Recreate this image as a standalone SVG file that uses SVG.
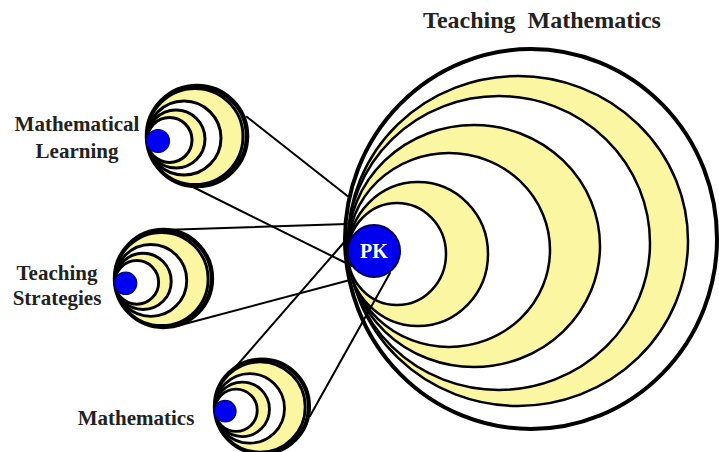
<svg xmlns="http://www.w3.org/2000/svg" xmlns:xlink="http://www.w3.org/1999/xlink" width="719" height="452" viewBox="0 0 719 452">
<style>
.ring{stroke:#000;stroke-width:2.5}
.w{fill:#fff}
.y{fill:#FBF6A2}
.outer{stroke-width:4}
.dot{fill:#0000F2;stroke:#00007A;stroke-width:1.2}
.lbl{font-family:"Liberation Serif","Times New Roman",serif;font-weight:bold;fill:#222;font-size:21px;text-anchor:middle}
.conn line{stroke:#000;stroke-width:2;stroke-linecap:round}
</style>
<defs>
<g id="small">
<circle class="ring w" cx="51" cy="0" r="50" style="stroke-width:4.5"/>
<circle class="ring y" cx="49" cy="0.5" r="48" style="stroke-width:3"/>
<circle class="ring w" cx="38" cy="2" r="37" style="stroke-width:3"/>
<circle class="ring y" cx="30" cy="3" r="29" style="stroke-width:3"/>
<circle class="ring w" cx="23.5" cy="4" r="22.5" style="stroke-width:3"/>
<circle class="dot" cx="12" cy="5" r="11.5"/>
</g>
</defs>
<rect width="719" height="452" fill="#fff"/>

<g id="teaching-mathematics">
<ellipse class="ring outer w" cx="531" cy="239" rx="186" ry="190"/>
<ellipse class="ring y" cx="518" cy="241" rx="170" ry="165"/>
<ellipse class="ring w" cx="499" cy="243" rx="151" ry="147"/>
<ellipse class="ring y" cx="474" cy="246" rx="126" ry="121"/>
<ellipse class="ring w" cx="449" cy="250" rx="101" ry="97"/>
<ellipse class="ring y" cx="418" cy="254" rx="70" ry="72"/>
<ellipse class="ring w" cx="397" cy="254" rx="49" ry="51"/>
<text class="lbl" x="542" y="28" style="font-size:24px" xml:space="preserve">Teaching  Mathematics</text>
</g>

<g id="connectors" class="conn">
<line x1="246.7" y1="116.7" x2="350" y2="198"/>
<line x1="193" y1="187" x2="352" y2="266"/>
<line x1="162" y1="230" x2="347" y2="224"/>
<line x1="177" y1="326" x2="350" y2="280"/>
<line x1="233" y1="370" x2="346" y2="240"/>
<line x1="310" y1="416" x2="390" y2="273"/>
</g>

<g id="pk">
<circle cx="374" cy="251" r="26" fill="#0000EE" stroke="#000055" stroke-width="2"/>
<text x="374" y="257.5" text-anchor="middle" style="font-family:'Liberation Serif','Times New Roman',serif;font-weight:bold;font-size:20px;fill:#fff">PK</text>
</g>

<g id="mathematical-learning">
<use xlink:href="#small" transform="translate(146,136)"/>
<text class="lbl" x="77" y="131">Mathematical</text>
<text class="lbl" x="77" y="158">Learning</text>
</g>

<g id="teaching-strategies">
<use xlink:href="#small" transform="translate(114,278.5) scale(0.97)"/>
<text class="lbl" x="57" y="280">Teaching</text>
<text class="lbl" x="57" y="305">Strategies</text>
</g>

<g id="mathematics">
<use xlink:href="#small" transform="translate(214,406.5) scale(0.94)"/>
<text class="lbl" x="136" y="425">Mathematics</text>
</g>
</svg>
